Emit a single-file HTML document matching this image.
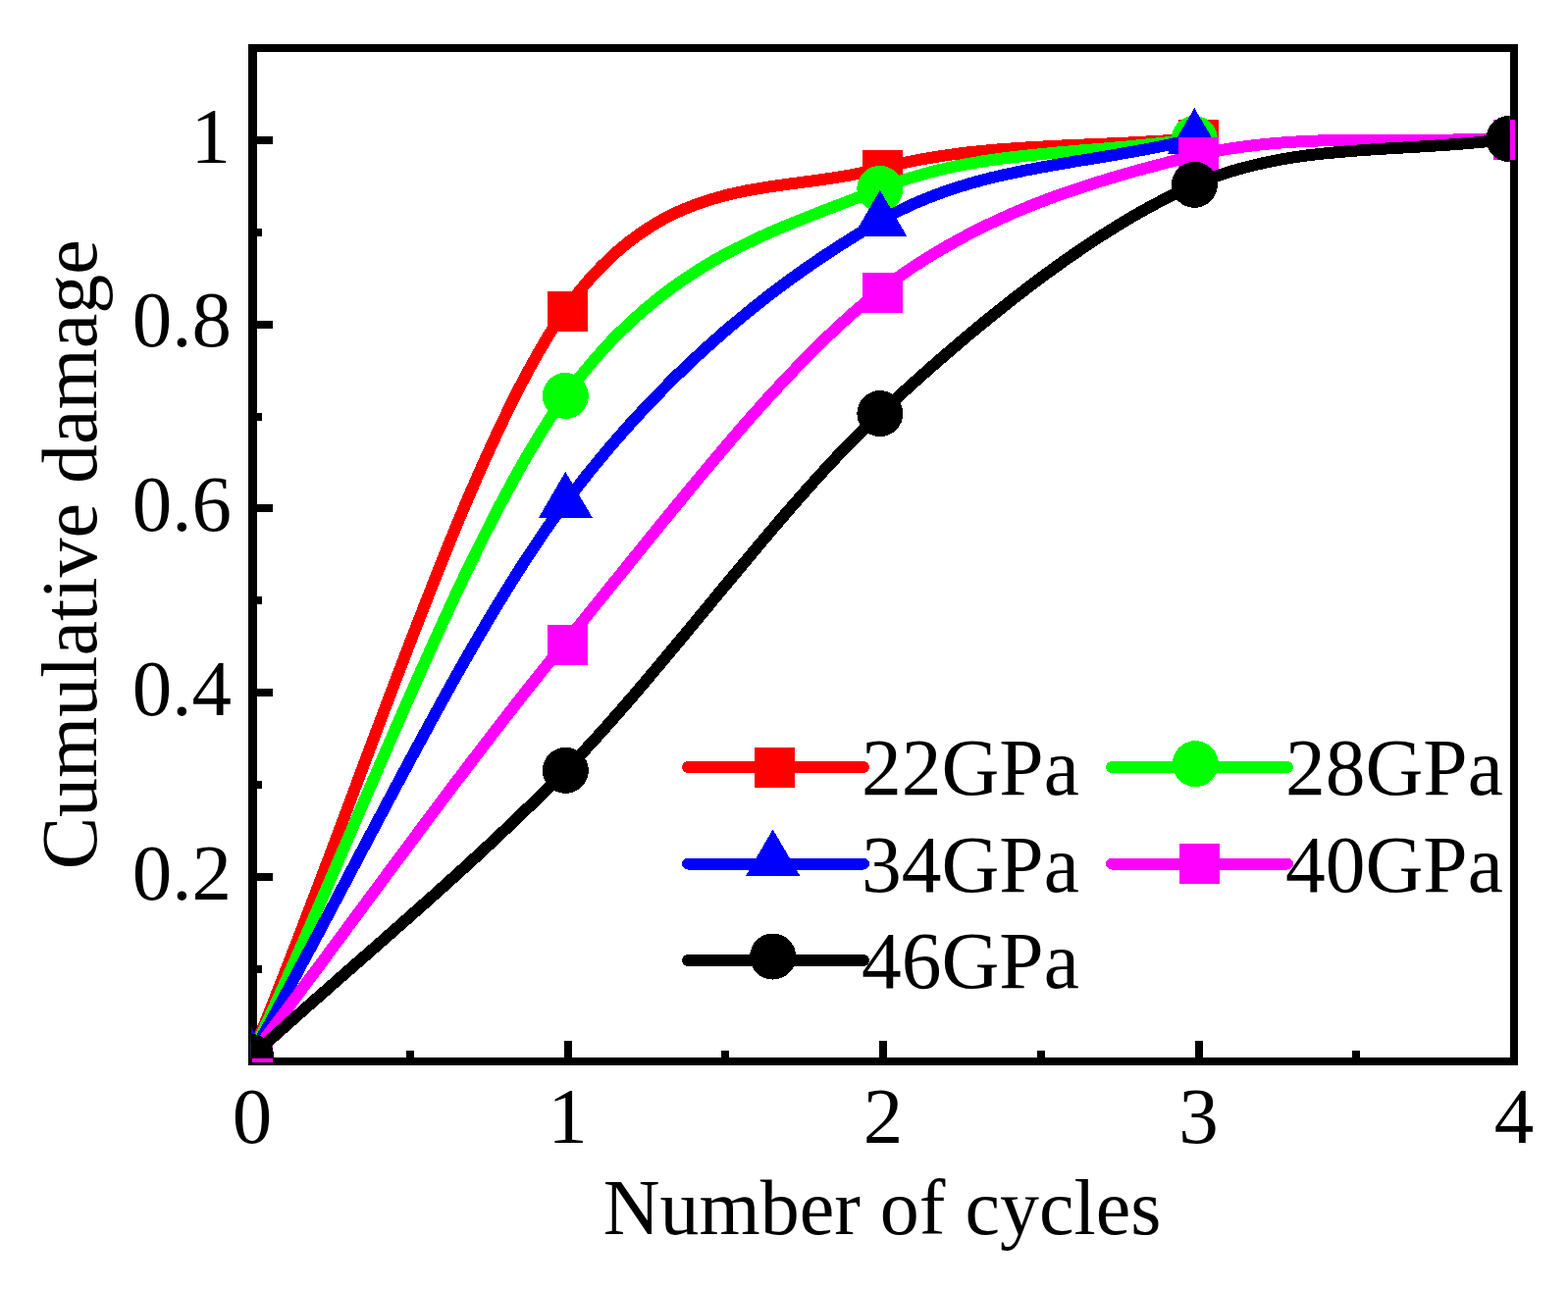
<!DOCTYPE html>
<html><head><meta charset="utf-8"><title>Cumulative damage vs Number of cycles</title>
<style>
html,body{margin:0;padding:0;background:#fff;}
body{width:1598px;height:1314px;overflow:hidden;}
svg{display:block;}
text{font-family:"Liberation Serif",serif;fill:#000;}
</style></head><body>
<svg width="1598" height="1314" viewBox="0 0 1598 1314" shape-rendering="crispEdges">
<defs><clipPath id="cs"><rect x="257.00" y="49.00" width="1287.00" height="1034.00"/></clipPath>
<clipPath id="ct"><rect x="255.82" y="47.78" width="1283.01" height="1030.97"/></clipPath></defs>
<rect x="0" y="0" width="1598" height="1314" fill="#fff"/>
<g fill="#000">
<rect x="253" y="45" width="9" height="1041"/>
<rect x="253" y="45" width="1294" height="8"/>
<rect x="1539" y="45" width="8" height="1041"/>
<rect x="253" y="1078" width="1294" height="8"/>
<rect x="262" y="890" width="16" height="8"/>
<rect x="262" y="702" width="16" height="8"/>
<rect x="262" y="514" width="16" height="8"/>
<rect x="262" y="327" width="16" height="8"/>
<rect x="262" y="139" width="16" height="8"/>
<rect x="262" y="984" width="5" height="8"/>
<rect x="262" y="796" width="5" height="8"/>
<rect x="262" y="608" width="5" height="8"/>
<rect x="262" y="421" width="5" height="8"/>
<rect x="262" y="233" width="5" height="8"/>
<rect x="575" y="1061" width="8" height="17"/>
<rect x="896" y="1061" width="8" height="17"/>
<rect x="1218" y="1061" width="8" height="17"/>
<rect x="414" y="1071" width="8" height="7"/>
<rect x="735" y="1071" width="8" height="7"/>
<rect x="1057" y="1071" width="8" height="7"/>
<rect x="1378" y="1071" width="8" height="7"/>
</g>
<path d="M255.82,1077.50 C358.38,833.66 473.77,460.40 576.33,315.50 C678.89,170.61 794.27,199.84 896.83,171.92 C999.39,144.01 1114.77,150.92 1217.33,141.03" fill="none" stroke="#ff0000" stroke-width="12.0" stroke-linejoin="round" stroke-linecap="round" clip-path="url(#ct)"/>
<rect x="237" y="1061" width="41" height="41" fill="#ff0000" clip-path="url(#cs)"/>
<rect x="558" y="297" width="41" height="41" fill="#ff0000" clip-path="url(#cs)"/>
<rect x="879" y="153" width="41" height="41" fill="#ff0000" clip-path="url(#cs)"/>
<rect x="1201" y="122" width="41" height="41" fill="#ff0000" clip-path="url(#cs)"/>
<path d="M255.82,1077.50 C358.38,861.82 473.77,545.10 576.33,403.49 C678.89,261.87 794.27,234.34 896.83,192.42 C999.39,150.50 1114.77,157.79 1217.33,141.50" fill="none" stroke="#00ff00" stroke-width="12.0" stroke-linejoin="round" stroke-linecap="round" clip-path="url(#ct)"/>
<circle cx="255.82" cy="1077.50" r="23.50" fill="#00ff00" clip-path="url(#ct)"/>
<circle cx="576.33" cy="403.49" r="23.50" fill="#00ff00" clip-path="url(#ct)"/>
<circle cx="896.83" cy="192.42" r="23.50" fill="#00ff00" clip-path="url(#ct)"/>
<circle cx="1217.33" cy="141.50" r="23.50" fill="#00ff00" clip-path="url(#ct)"/>
<path d="M255.82,1077.50 C358.38,896.59 473.77,648.51 576.33,512.16 C678.89,375.80 794.27,284.58 896.83,225.27 C999.39,165.97 1114.77,168.31 1217.33,141.50" fill="none" stroke="#0000ff" stroke-width="12.0" stroke-linejoin="round" stroke-linecap="round" clip-path="url(#ct)"/>
<polygon points="255.82,1046.10 228.32,1093.20 283.32,1093.20" fill="#0000ff" clip-path="url(#ct)"/>
<polygon points="576.33,480.76 548.83,527.86 603.83,527.86" fill="#0000ff" clip-path="url(#ct)"/>
<polygon points="896.83,193.87 869.33,240.97 924.33,240.97" fill="#0000ff" clip-path="url(#ct)"/>
<polygon points="1217.33,110.10 1189.83,157.20 1244.83,157.20" fill="#0000ff" clip-path="url(#ct)"/>
<path d="M255.82,1077.50 C358.38,942.15 473.77,779.51 576.33,654.52 C678.89,529.53 794.27,375.64 896.83,296.32 C999.39,216.99 1114.77,183.57 1217.33,158.72 C1319.89,133.88 1435.28,146.69 1537.84,141.03" fill="none" stroke="#ff00ff" stroke-width="12.0" stroke-linejoin="round" stroke-linecap="round" clip-path="url(#ct)"/>
<rect x="237" y="1061" width="41" height="41" fill="#ff00ff" clip-path="url(#cs)"/>
<rect x="558" y="637" width="41" height="41" fill="#ff00ff" clip-path="url(#cs)"/>
<rect x="879" y="278" width="41" height="41" fill="#ff00ff" clip-path="url(#cs)"/>
<rect x="1201" y="140" width="41" height="41" fill="#ff00ff" clip-path="url(#cs)"/>
<rect x="1522" y="122" width="41" height="41" fill="#ff00ff" clip-path="url(#cs)"/>
<path d="M255.82,1077.50 C358.38,984.02 473.77,890.33 576.33,785.38 C678.89,680.42 794.27,517.07 896.83,421.55 C999.39,326.04 1114.77,233.20 1217.33,188.39 C1319.89,143.59 1435.28,156.51 1537.84,141.50" fill="none" stroke="#000000" stroke-width="12.0" stroke-linejoin="round" stroke-linecap="round" clip-path="url(#ct)"/>
<circle cx="255.82" cy="1077.50" r="23.50" fill="#000000" clip-path="url(#ct)"/>
<circle cx="576.33" cy="785.38" r="23.50" fill="#000000" clip-path="url(#ct)"/>
<circle cx="896.83" cy="421.55" r="23.50" fill="#000000" clip-path="url(#ct)"/>
<circle cx="1217.33" cy="188.39" r="23.50" fill="#000000" clip-path="url(#ct)"/>
<circle cx="1537.84" cy="141.50" r="23.50" fill="#000000" clip-path="url(#ct)"/>
<text x="257.0" y="1165" font-size="81" text-anchor="middle">0</text>
<text x="578.5" y="1165" font-size="81" text-anchor="middle">1</text>
<text x="900.0" y="1165" font-size="81" text-anchor="middle">2</text>
<text x="1221.5" y="1165" font-size="81" text-anchor="middle">3</text>
<text x="1543.0" y="1165" font-size="81" text-anchor="middle">4</text>
<text x="236" y="916.5" font-size="81" text-anchor="end">0.2</text>
<text x="236" y="728.8" font-size="81" text-anchor="end">0.4</text>
<text x="236" y="541.0" font-size="81" text-anchor="end">0.6</text>
<text x="236" y="353.2" font-size="81" text-anchor="end">0.8</text>
<text x="235" y="165.5" font-size="81" text-anchor="end">1</text>
<text x="899" y="1258" font-size="80" text-anchor="middle">Number of cycles</text>
<text transform="translate(97.5,565.3) rotate(-90)" font-size="80" text-anchor="middle">Cumulative damage</text>
<line x1="701.0" y1="782.0" x2="880.0" y2="782.0" stroke="#ff0000" stroke-width="12" stroke-linecap="round"/><rect x="769" y="762" width="41" height="41" fill="#ff0000"/><text x="878.0" y="810.0" font-size="81.5">22GPa</text>
<line x1="1133.0" y1="782.0" x2="1312.0" y2="782.0" stroke="#00ff00" stroke-width="12" stroke-linecap="round"/><circle cx="1218.33" cy="778.63" r="23.50" fill="#00ff00"/><text x="1310.0" y="810.0" font-size="81.5">28GPa</text>
<line x1="701.0" y1="880.5" x2="880.0" y2="880.5" stroke="#0000ff" stroke-width="12" stroke-linecap="round"/><polygon points="787.67,845.44 760.17,892.54 815.17,892.54" fill="#0000ff"/><text x="878.0" y="908.5" font-size="81.5">34GPa</text>
<line x1="1133.0" y1="880.5" x2="1312.0" y2="880.5" stroke="#ff00ff" stroke-width="12" stroke-linecap="round"/><rect x="1202" y="860" width="41" height="41" fill="#ff00ff"/><text x="1310.0" y="908.5" font-size="81.5">40GPa</text>
<line x1="701.0" y1="979.0" x2="880.0" y2="979.0" stroke="#000000" stroke-width="12" stroke-linecap="round"/><circle cx="787.67" cy="975.05" r="23.50" fill="#000000"/><text x="878.0" y="1007.0" font-size="81.5">46GPa</text>
</svg>
</body></html>
